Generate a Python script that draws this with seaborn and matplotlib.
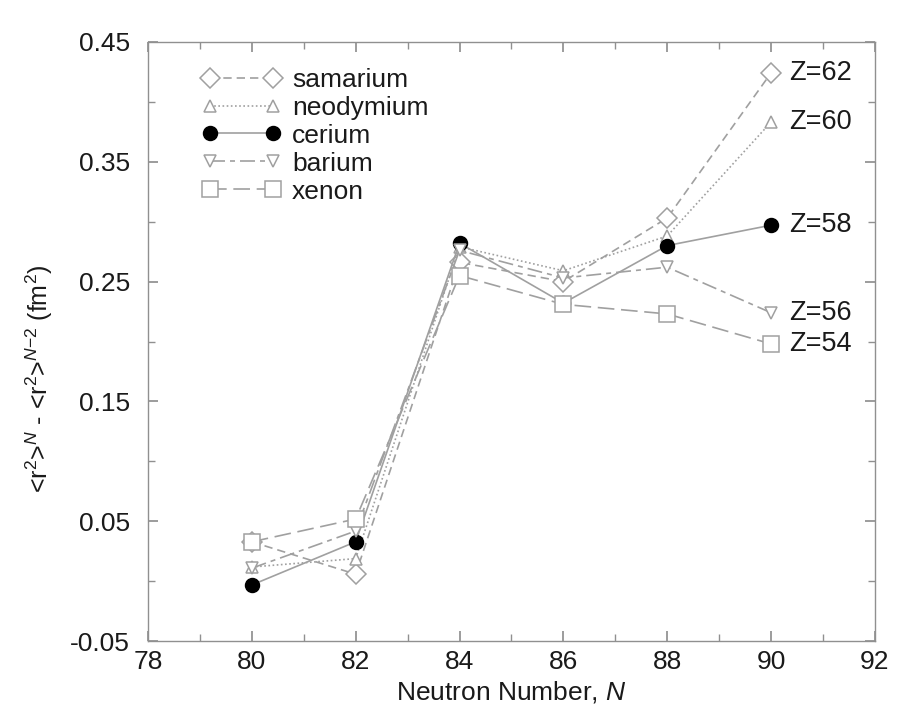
import matplotlib
matplotlib.use("Agg")
import matplotlib.pyplot as plt
import seaborn as sns
import pandas as pd
from matplotlib.ticker import MultipleLocator

# ---- data ----
N = [80, 82, 84, 86, 88, 90]
samarium = [0.033, 0.006, 0.266, 0.250, 0.303, 0.424]
neodymium = [0.012, 0.019, 0.279, 0.259, 0.288, 0.383]
cerium = [-0.003, 0.033, 0.282, 0.232, 0.280, 0.297]
barium = [0.011, 0.042, 0.276, 0.253, 0.262, 0.224]
xenon = [0.033, 0.052, 0.255, 0.231, 0.223, 0.198]
series_names = ["samarium", "neodymium", "cerium", "barium", "xenon"]
z_labels = ["Z=62", "Z=60", "Z=58", "Z=56", "Z=54"]
y_ticks = [-0.05, 0.05, 0.15, 0.25, 0.35, 0.45]
y_ticklabels = ["-0.05", "0.05", "0.15", "0.25", "0.35", "0.45"]

sns.set_theme(style="ticks")
plt.rcParams["font.family"] = ["Liberation Sans", "DejaVu Sans"]
plt.rcParams["mathtext.fontset"] = "custom"
plt.rcParams["mathtext.rm"] = "Liberation Sans"
plt.rcParams["mathtext.it"] = "Liberation Sans:italic"

values = [samarium, neodymium, cerium, barium, xenon]
df = pd.DataFrame({"N": N * len(series_names),
                   "value": sum(values, []),
                   "element": [n for n in series_names for _ in N]})

GRAY = "#a0a0a0"
styles = {
    "samarium": dict(marker="D", ls=(0, (5, 3)), ms=10, mfc="white", mec=GRAY),
    "neodymium": dict(marker="^", ls=(0, (1, 1.5)), ms=9, mfc="white", mec=GRAY),
    "cerium": dict(marker="o", ls="-", ms=10, mfc="black", mec="black"),
    "barium": dict(marker="v", ls=(0, (9, 3, 3, 3)), ms=9, mfc="white", mec=GRAY),
    "xenon": dict(marker="s", ls=(0, (10, 4)), ms=11, mfc="white", mec=GRAY),
}

fig = plt.figure(figsize=(9.02, 7.19), dpi=100)
ax = fig.add_axes([0.164, 0.108, 0.806, 0.834])

for name in series_names:
    st = styles[name]
    sub = df[df["element"] == name]
    sns.lineplot(data=sub, x="N", y="value", ax=ax, color=GRAY, lw=1.2,
                 linestyle=st["ls"], marker=st["marker"], markersize=st["ms"],
                 markerfacecolor=st["mfc"], markeredgecolor=st["mec"],
                 markeredgewidth=1.1, errorbar=None, label=name, sort=False)

for lab, vals in zip(z_labels, values):
    ax.text(90.35, vals[-1], lab, fontsize=19.5, color="#1a1a1a", va="center", ha="left")

ax.set_xlim(78, 92)
ax.set_ylim(-0.05, 0.45)
ax.xaxis.set_major_locator(MultipleLocator(2))
ax.xaxis.set_minor_locator(MultipleLocator(1))
ax.set_yticks(y_ticks)
ax.set_yticklabels(y_ticklabels)
ax.set_yticks([0.0, 0.1, 0.2, 0.3, 0.4], minor=True)
ax.tick_params(axis="both", which="both", direction="in", top=True, right=True,
               color="#909090", labelsize=19, labelcolor="#1a1a1a")
ax.tick_params(axis="y", which="major", pad=13)
ax.tick_params(axis="x", which="major", pad=6)
ax.tick_params(which="major", length=7)
ax.tick_params(which="minor", length=5)
for sp in ax.spines.values():
    sp.set_color("#909090")
    sp.set_linewidth(1.0)

ax.set_xlabel("Neutron Number, $\\mathit{N}$", fontsize=19, color="#1a1a1a", labelpad=4)
ax.set_ylabel("<r$^2$>$^{\\mathit{N}}$ - <r$^2$>$^{\\mathit{N}\\mathrm{-2}}$ (fm$^2$)",
              fontsize=18, color="#1a1a1a")
ax.yaxis.set_label_coords(-0.128, 0.438)

leg = ax.legend(loc="upper left", bbox_to_anchor=(0.074, 0.9565), frameon=False,
                numpoints=2, handlelength=3.0, fontsize=19, labelspacing=0.15,
                handletextpad=0.42, borderpad=0, borderaxespad=0)
for t in leg.get_texts():
    t.set_color("#1a1a1a")

fig.savefig("out.png", dpi=100)
